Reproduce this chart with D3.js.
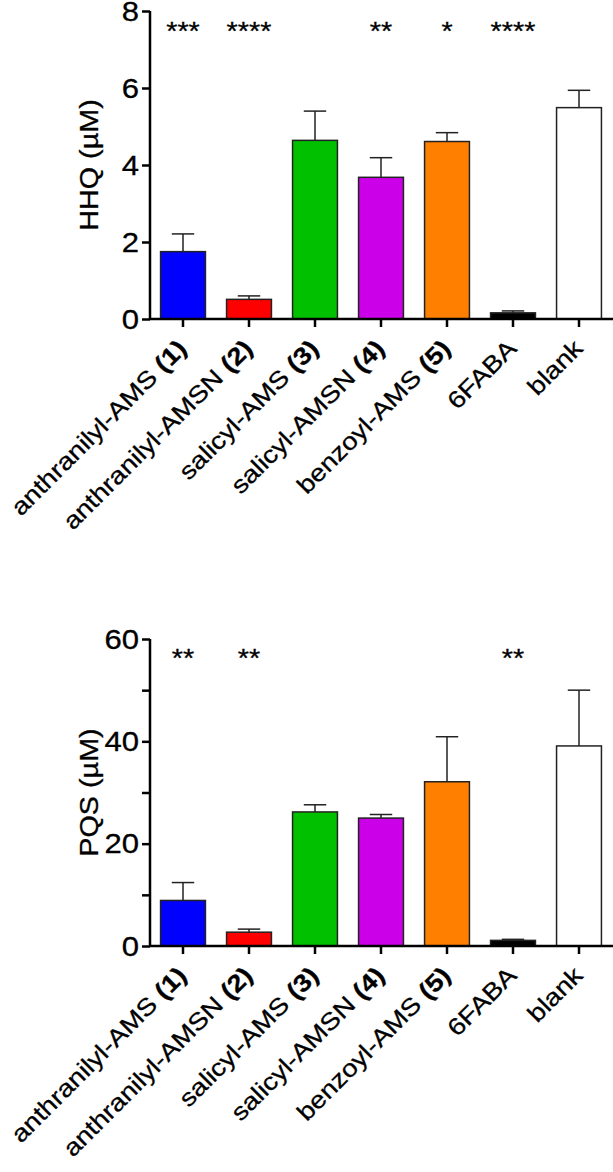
<!DOCTYPE html>
<html><head><meta charset="utf-8">
<script src="https://cdn.jsdelivr.net/npm/d3@7"></script>
<style>body{margin:0;background:#fff}svg{display:block}text{font-family:"Liberation Sans",Arial,sans-serif}</style>
</head><body>
<svg id="c" width="613" height="1172"></svg>
<script>
const categories = ["anthranilyl-AMS", "anthranilyl-AMSN", "salicyl-AMS", "salicyl-AMSN", "benzoyl-AMS ", "6FABA", "blank"];
const labelNums = ["(1)", "(2)", "(3)", "(4)", "(5)", "", ""];
const colors = ["#0000ff", "#ff0000", "#00c000", "#cc00e8", "#ff8000", "#000000", "#ffffff"];
const hhqMean = [1.75, 0.51, 4.64, 3.68, 4.61, 0.16, 5.49];
const hhqErr  = [0.46, 0.09, 0.76, 0.51, 0.23, 0.05, 0.45];
const hhqSig  = ["***", "****", "", "**", "*", "****", ""];
const hhqTicks = [0, 2, 4, 6, 8];
const pqsMean = [8.9, 2.7, 26.2, 25.0, 32.1, 1.1, 39.1];
const pqsErr  = [3.5, 0.6, 1.4, 0.7, 8.8, 0.2, 10.9];
const pqsSig  = ["**", "**", "", "", "", "**", ""];
const pqsTicks = [0, 10, 20, 30, 40, 50, 60];
const pqsLabels = [0, 20, 40, 60];

const SX = 1.15; // slightly wide glyphs, as in the reference
const svg = d3.select("#c");

function label(g, x, y, rot, size, anchor) {
  return g.append("text").attr("text-anchor", anchor).attr("font-size", size)
    .attr("stroke", "#000").attr("stroke-width", 0.3)
    .attr("transform", `translate(${x},${y}) rotate(${rot}) scale(${SX},1)`);
}

function panel(cfg) {
  const g = svg.append("g");
  const x = d3.scaleBand().domain(categories).range([150, 612]).paddingInner(0.32).paddingOuter(0.16);
  const y = d3.scaleLinear().domain(cfg.domain).range([cfg.y0, cfg.y1]);

  g.selectAll("rect.bar").data(categories).enter().append("rect")
    .attr("x", d => x(d)).attr("width", x.bandwidth())
    .attr("y", (d, i) => y(cfg.mean[i]))
    .attr("height", (d, i) => y(0) - y(cfg.mean[i]))
    .attr("fill", (d, i) => colors[i]).attr("stroke", "#222").attr("stroke-width", 1.5);

  const cw = x.bandwidth() * 0.5;
  categories.forEach((d, i) => {
    const cx = x(d) + x.bandwidth() / 2;
    g.append("line").attr("x1", cx).attr("x2", cx)
      .attr("y1", y(cfg.mean[i])).attr("y2", y(cfg.mean[i] + cfg.err[i]))
      .attr("stroke", "#222").attr("stroke-width", 1.5);
    g.append("line").attr("x1", cx - cw / 2).attr("x2", cx + cw / 2)
      .attr("y1", y(cfg.mean[i] + cfg.err[i])).attr("y2", y(cfg.mean[i] + cfg.err[i]))
      .attr("stroke", "#222").attr("stroke-width", 1.5);
    if (cfg.sig[i]) label(g, cx, cfg.sigY, 0, 25, "middle").text(cfg.sig[i]);
  });

  const ya = d3.axisLeft(y).tickValues(cfg.ticks).tickSize(8).tickFormat("");
  const yg = g.append("g").attr("transform", "translate(150,0)").call(ya);
  yg.select(".domain").attr("stroke-width", 2.5).attr("d", `M0,${cfg.y0}V${cfg.y1}`);
  yg.selectAll(".tick line").attr("stroke-width", 2.5);
  cfg.labels.forEach(v => {
    label(g, 139, y(v), 0, 27, "end").attr("dy", "0.36em").text(v);
  });

  const xa = d3.axisBottom(x).tickSize(8).tickFormat("");
  const xg = g.append("g").attr("transform", `translate(0,${cfg.y0})`).call(xa);
  xg.select(".domain").attr("stroke-width", 2.5).attr("d", "M150,0H613");
  xg.selectAll(".tick line").attr("stroke-width", 2.5);

  categories.forEach((d, i) => {
    const cx = x(d) + x.bandwidth() / 2;
    const t = label(g, cx + 5, cfg.y0 + 31, -45, 24, "end");
    t.append("tspan").text(d + (labelNums[i] ? " " : ""));
    if (labelNums[i]) t.append("tspan").attr("font-weight", "bold").text(labelNums[i]);
  });

  label(g, 98, (cfg.y0 + cfg.y1) / 2, -90, 25, "middle").text(cfg.title);
}

panel({domain: [0, 8], y0: 319, y1: 11, mean: hhqMean, err: hhqErr, sig: hhqSig, sigY: 40,
       ticks: hhqTicks, labels: hhqTicks, title: "HHQ (µM)"});
panel({domain: [0, 60], y0: 946, y1: 639, mean: pqsMean, err: pqsErr, sig: pqsSig, sigY: 667,
       ticks: pqsTicks, labels: pqsLabels, title: "PQS (µM)"});
</script>
</body></html>
